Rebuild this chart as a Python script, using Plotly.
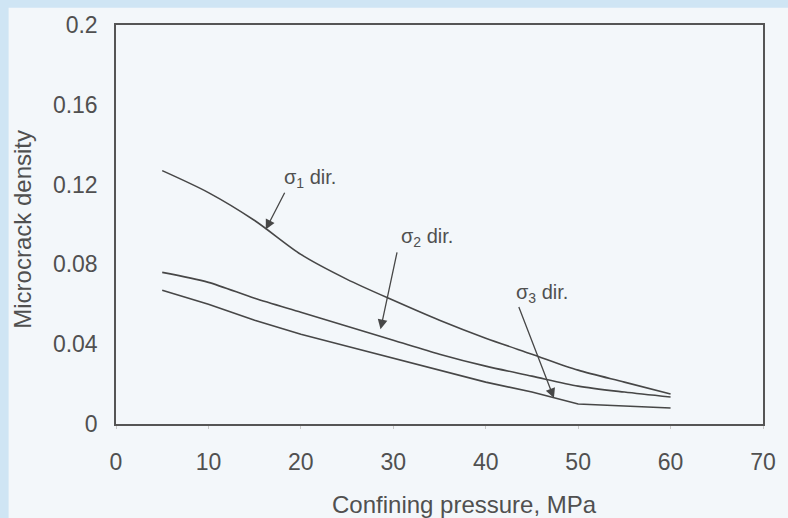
import plotly.graph_objects as go

# ---- data ----
pressure = [5, 10, 15, 20, 25, 30, 35, 40, 45, 50, 55, 60]
sigma1_dir = [0.127, 0.116, 0.102, 0.085, 0.0725, 0.062, 0.052, 0.043, 0.035, 0.027, 0.021, 0.015]
sigma2_dir = [0.076, 0.071, 0.063, 0.056, 0.049, 0.042, 0.035, 0.029, 0.024, 0.019, 0.016, 0.0135]
sigma3_dir = [0.067, 0.060, 0.052, 0.045, 0.039, 0.033, 0.027, 0.021, 0.016, 0.010, 0.009, 0.008]

x_ticks = [0, 10, 20, 30, 40, 50, 60, 70]
y_ticks = [0, 0.04, 0.08, 0.12, 0.16, 0.2]
y_tick_labels = ["0", "0.04", "0.08", "0.12", "0.16", "0.2"]

LINE = "#474747"
TEXT = "#505050"
FONT = "Liberation Sans, Arial, sans-serif"

fig = go.Figure()
for name, vals, shape in [("σ1 dir.", sigma1_dir, "spline"), ("σ2 dir.", sigma2_dir, "spline"),
                          ("σ3 dir.", sigma3_dir, "linear")]:
    fig.add_trace(go.Scatter(x=pressure, y=vals, mode="lines", name=name,
                             line=dict(color=LINE, width=1.6, shape=shape, smoothing=0.8),
                             showlegend=False, hoverinfo="x+y"))

# pale page inside the light-blue scan border
fig.add_shape(type="rect", xref="paper", yref="paper",
              x0=-0.166, x1=1.05, y0=-0.26, y1=1.043,
              fillcolor="#f3f7fa", line=dict(width=0), layer="below")

annos = []
labels = [("σ<sub>1</sub> dir.", 21.0, 0.1232, 18.33, 0.1167, 16.2, 0.0975),
          ("σ<sub>2</sub> dir.", 33.6, 0.0933, 30.44, 0.0868, 28.62, 0.0475),
          ("σ<sub>3</sub> dir.", 46.1, 0.0653, 43.52, 0.0594, 47.38, 0.0130)]
for txt, tx, ty, ax0, ay0, hx, hy in labels:
    annos.append(dict(x=tx, y=ty, xref="x", yref="y", text=txt, showarrow=False,
                      font=dict(family=FONT, size=20, color=TEXT)))
    annos.append(dict(x=hx, y=hy, ax=ax0, ay=ay0, xref="x", yref="y", axref="x", ayref="y",
                      text="", showarrow=True, arrowhead=2, arrowsize=1.5, arrowwidth=1.3,
                      arrowcolor=LINE, standoff=0, startstandoff=0))
annos.append(dict(x=0.539, y=-0.202, xref="paper", yref="paper", text="Confining pressure, MPa",
                  xanchor="center", yanchor="middle",
                  showarrow=False, font=dict(family=FONT, size=24, color=TEXT)))
annos.append(dict(x=-0.144, y=0.489, xref="paper", yref="paper", text="Microcrack density",
                  xanchor="center", yanchor="middle",
                  textangle=-90, showarrow=False, font=dict(family=FONT, size=24, color=TEXT)))

fig.update_layout(
    width=788, height=518, autosize=False,
    margin=dict(l=116, r=19, t=23, b=94),
    paper_bgcolor="#cfe5f4",
    plot_bgcolor="#f6f9fb",
    font=dict(family=FONT, size=23, color=TEXT),
    annotations=annos,
    xaxis=dict(range=[0, 70], tickvals=x_ticks, ticks="outside", ticklen=3, tickcolor="#c8c8c8",
               showgrid=False, zeroline=False, showline=True, linecolor="#555555", linewidth=1.5,
               mirror=True, ticklabelstandoff=14, tickfont=dict(size=23, color=TEXT)),
    yaxis=dict(range=[0, 0.2], tickvals=y_ticks, ticktext=y_tick_labels, ticks="",
               showgrid=False, zeroline=False, showline=True, linecolor="#555555", linewidth=1.5,
               mirror=True, ticklabelstandoff=12, tickfont=dict(size=23, color=TEXT)),
)

fig.write_html("out.html", config={"displayModeBar": False},
               post_script="document.body.style.margin='0';document.body.style.background='#cfe5f4';")
